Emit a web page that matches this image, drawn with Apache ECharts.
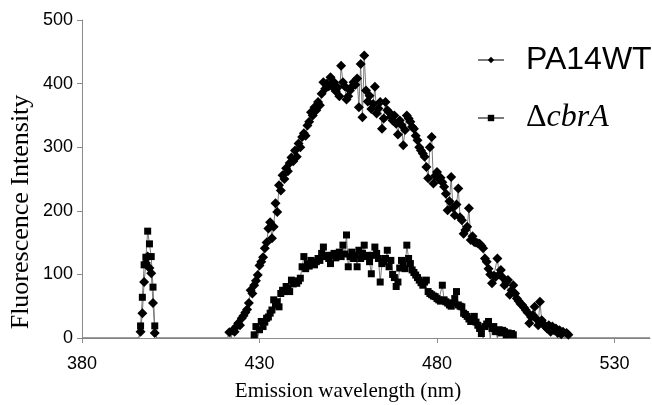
<!DOCTYPE html>
<html>
<head>
<meta charset="utf-8">
<script src="https://cdn.jsdelivr.net/npm/echarts@6/dist/echarts.min.js"></script>
<style>
  html, body { margin: 0; padding: 0; background: #fff; }
  #chart { width: 652px; height: 405px; }
</style>
</head>
<body>
<div id="chart"></div>
<script>
// wavelength step of the scans (nm)
const step = 0.5
const xTicks = [380, 430, 480, 530]

// PA14WT: small peak near 398 nm and main emission band
const wtSmallStart = 396
const wtSmall = [0, 10, 39, 88, 118, 128, 110, 102, 55, 8, 0]
const wtMainStart = 421
const wtMain = [
  0, 9, 0, 12, 10, 18, 23, 20, 31, 35, 40, 45, 55, 75, 70, 83, 90, 99, 114, 120,
  127, 141, 150, 172, 182, 157, 175, 212, 198, 240, 232, 256, 250, 267, 262, 275, 284, 278, 295, 285,
  306, 300, 316, 322, 318, 334, 340, 355, 350, 363, 358, 371, 366, 384, 402, 392, 400, 396, 410, 395,
  402, 388, 394, 380, 428, 402, 396, 375, 380, 389, 395, 402, 398, 408, 363, 431, 347, 444, 389, 372,
  381, 360, 368, 395, 353, 361, 371, 329, 345, 371, 358, 355, 348, 342, 350, 337, 320, 342, 335, 303,
  327, 350, 345, 340, 332, 329, 318, 311, 300, 295, 290, 285, 269, 251, 300, 316, 243, 255, 261, 250,
  252, 245, 238, 227, 201, 215, 253, 205, 193, 210, 235, 190, 185, 164, 170, 175, 204, 154, 160, 151,
  150, 149, 148, 145, 141, 125, 120, 109, 100, 86, 98, 96, 125, 100, 107, 95, 83, 88, 91, 68,
  75, 83, 70, 62, 58, 54, 52, 48, 44, 40, 23, 33, 36, 49, 30, 20, 57, 28, 22, 18,
  15, 20, 10, 18, 12, 15, 8, 12, 6, 10, 0, 8, 5, 0
]

// ΔcbrA
const cbrSmallStart = 396
const cbrSmall = [0, 19, 64, 115, 127, 168, 148, 128, 80, 19, 0]
const cbrMainStart = 428
const cbrMain = [
  0, 5, 18, 0, 13, 26, 18, 25, 31, 33, 39, 44, 60, 52, 57, 49, 70, 75, 73, 81,
  78, 73, 91, 85, 88, 86, 90, 94, 112, 128, 109, 117, 113, 122, 118, 115, 120, 125, 122, 133,
  143, 128, 130, 125, 117, 130, 133, 126, 133, 135, 128, 146, 132, 162, 112, 128, 135, 125, 130, 112,
  138, 125, 133, 146, 128, 130, 120, 101, 130, 143, 133, 125, 88, 117, 120, 125, 138, 112, 122, 100,
  95, 81, 88, 110, 122, 115, 109, 146, 125, 117, 107, 103, 99, 95, 91, 87, 83, 88, 91, 73,
  70, 68, 66, 65, 62, 60, 58, 83, 60, 57, 55, 52, 50, 55, 62, 73, 52, 50, 49, 39,
  37, 34, 30, 26, 30, 34, 25, 20, 15, 7, 0, 18, 22, 26, 0, 15, 18, 10, 0, 13,
  8, 12, 10, 5, 8, 6, 7, 5, 0
]

const xMin = 380
const xMax = 540

function buildSeries(segments) {
  const pts = [[xMin, 0]]
  segments.forEach(([start, vals]) => {
    vals.forEach((v, i) => pts.push([start + i * step, v]))
  })
  pts.push([xMax, 0])
  // zero readings are drawn as plain baseline, without a marker
  return pts.map(p => (p[1] === 0 ? { value: p, symbol: 'none' } : p))
}

const wtData = buildSeries([[wtSmallStart, wtSmall], [wtMainStart, wtMain]])
const cbrData = buildSeries([[cbrSmallStart, cbrSmall], [cbrMainStart, cbrMain]])

const chart = echarts.init(document.getElementById('chart'))
chart.setOption({
  animation: false,
  backgroundColor: '#fff',
  grid: {
    left: 82,
    right: 2,
    top: 20,
    bottom: 67,
    outerBoundsMode: 'none'
  },
  legend: {
    orient: 'vertical',
    left: 477,
    top: 44,
    padding: 0,
    itemWidth: 26,
    itemHeight: 8,
    itemGap: 26,
    data: ['PA14WT', 'ΔcbrA'],
    formatter(name) {
      return name === 'PA14WT' ? '{a|PA14WT}' : '{d|Δ}{i|cbrA}'
    },
    textStyle: {
      color: '#000',
      padding: [0, 0, 0, 17],
      rich: {
        a: { fontFamily: 'Liberation Sans, Arial', fontSize: 32, color: '#000', lineHeight: 38 },
        d: { fontFamily: 'Liberation Serif, Times New Roman', fontSize: 32, color: '#000', lineHeight: 38 },
        i: { fontFamily: 'Liberation Serif, Times New Roman', fontStyle: 'italic', fontSize: 32, color: '#000', lineHeight: 38 }
      }
    }
  },
  xAxis: {
    type: 'value',
    min: xMin,
    max: xMax,
    name: 'Emission wavelength (nm)',
    nameLocation: 'middle',
    nameGap: 43,
    nameTextStyle: {
      fontFamily: 'Liberation Serif, Times New Roman',
      fontSize: 21,
      color: '#000',
      padding: [0, 36, 0, 0]
    },
    axisLine: { lineStyle: { color: '#8c8c8c', width: 1 } },
    axisTick: { show: true, length: 5, customValues: xTicks, lineStyle: { color: '#8c8c8c' } },
    axisLabel: {
      customValues: xTicks,
      margin: 17,
      fontFamily: 'Liberation Sans, Arial',
      fontSize: 18,
      color: '#000'
    },
    splitLine: { show: false }
  },
  yAxis: {
    type: 'value',
    min: 0,
    max: 500,
    interval: 100,
    axisLine: { show: true, lineStyle: { color: '#8c8c8c', width: 1 } },
    axisTick: { show: true, length: 5, lineStyle: { color: '#8c8c8c' } },
    axisLabel: {
      margin: 9,
      fontFamily: 'Liberation Sans, Arial',
      fontSize: 18,
      color: '#000'
    },
    splitLine: { show: false }
  },
  graphic: [
    {
      type: 'text',
      x: 21,
      y: 212,
      rotation: Math.PI / 2,
      style: {
        text: 'Fluorescence Intensity',
        font: '26px "Liberation Serif", "Times New Roman", serif',
        fill: '#000',
        textAlign: 'center',
        textVerticalAlign: 'middle'
      }
    }
  ],
  series: [
    {
      name: 'PA14WT',
      type: 'line',
      data: wtData,
      symbol: 'diamond',
      symbolSize: 10,
      showAllSymbol: true,
      itemStyle: { color: '#000' },
      lineStyle: { color: '#7a7a7a', width: 1 }
    },
    {
      name: 'ΔcbrA',
      type: 'line',
      data: cbrData,
      symbol: 'rect',
      symbolSize: 7,
      showAllSymbol: true,
      itemStyle: { color: '#000' },
      lineStyle: { color: '#7a7a7a', width: 1 }
    }
  ]
})
</script>
</body>
</html>
